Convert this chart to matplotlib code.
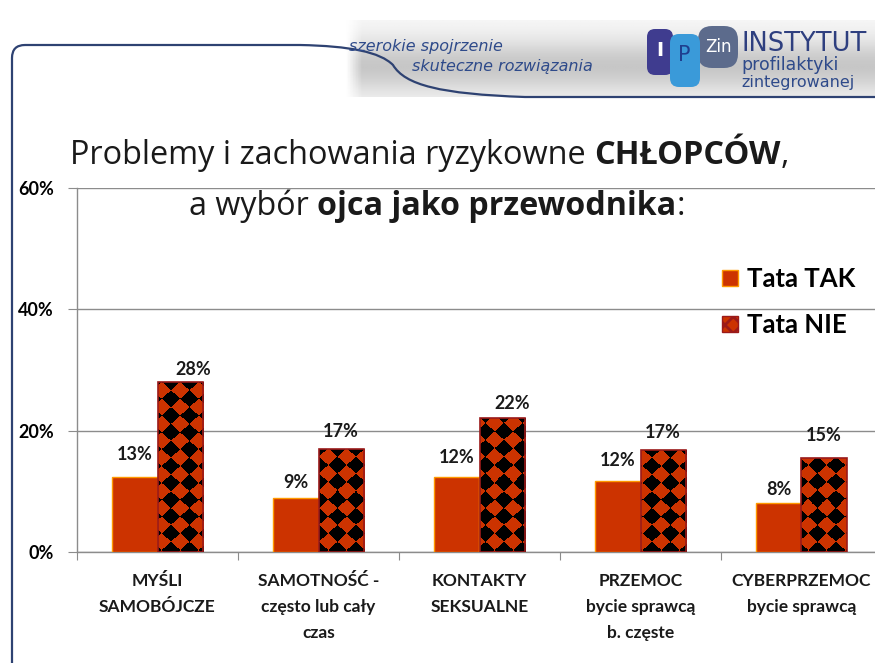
import numpy as np
import matplotlib
matplotlib.use("Agg")
import matplotlib.pyplot as plt
from matplotlib.path import Path
from matplotlib.patches import PathPatch, FancyBboxPatch
from matplotlib.colors import ListedColormap

categories = ["MYŚLI\nSAMOBÓJCZE", "SAMOTNOŚĆ -\nczęsto lub cały\nczas", "KONTAKTY\nSEKSUALNE",
              "PRZEMOC\nbycie sprawcą\nb. częste", "CYBERPRZEMOC\nbycie sprawcą"]
tata_tak = [12.4, 8.9, 12.4, 11.7, 8.1]
tata_nie = [28.0, 17.0, 22.1, 16.8, 15.5]
tak_labels = ["13%", "9%", "12%", "12%", "8%"]
nie_labels = ["28%", "17%", "22%", "17%", "15%"]
yticks = [0, 20, 40, 60]
ytick_labels = ["0%", "20%", "40%", "60%"]
series_names = ["Tata TAK", "Tata NIE"]

# label placement offsets (pixels) as placed in the original slide
tak_label_dy = [14, 7, 11, 12, 5]
nie_label_dy = [4, 9, 6, 9, 14]
nie_label_dx = [13, 0, 10, 0, 0]

W, H = 875, 663
fig = plt.figure(figsize=(W / 100, H / 100), dpi=100)
fig.patch.set_facecolor("white")

# background / header layer in pixel coords
bg = fig.add_axes([0, 0, 1, 1], zorder=-5)
bg.set_xlim(0, W)
bg.set_ylim(H, 0)
bg.axis("off")

yy = np.linspace(0, 1, 80)[:, None]
xx = np.linspace(0, 1, 200)[None, :]
prof = 0.97 - 0.19 * np.exp(-((yy - 0.6) / 0.35) ** 2)
edge = np.clip(xx / 0.03, 0, 1)
grad = 1 - (1 - prof) * edge
bg.imshow(grad, cmap="gray", vmin=0, vmax=1, extent=[345, W, 97, 20], aspect="auto", zorder=0)

frame = Path([(12, H), (12, 58), (12, 45), (25, 45), (300, 45),
              (350, 46), (380, 52), (393, 65),
              (405, 85), (440, 94), (525, 97), (W, 97)],
             [Path.MOVETO, Path.LINETO, Path.CURVE3, Path.CURVE3, Path.LINETO,
              Path.CURVE4, Path.CURVE4, Path.CURVE4,
              Path.CURVE4, Path.CURVE4, Path.CURVE4, Path.LINETO])
bg.add_patch(PathPatch(frame, facecolor="none", edgecolor="#2E4272", lw=1.6, zorder=2))

bg.text(349, 46, "szerokie spojrzenie", fontsize=11.5, style="italic", color="#2E4A8A",
        family="DejaVu Sans", va="center", ha="left")
bg.text(412, 67, "skuteczne rozwiązania", fontsize=11.5, style="italic", color="#2E4A8A",
        family="DejaVu Sans", va="center", ha="left")

# logo pieces
bg.add_patch(FancyBboxPatch((649, 31), 22, 42, boxstyle="round,pad=2,rounding_size=8",
                            fc="#3F3C8F", ec="none", zorder=3))
bg.add_patch(FancyBboxPatch((672, 36), 26, 49, boxstyle="round,pad=2,rounding_size=9",
                            fc="#3A9AD9", ec="none", zorder=4))
bg.add_patch(FancyBboxPatch((700, 28), 36, 38, boxstyle="round,pad=2,rounding_size=14",
                            fc="#5C6B8C", ec="none", zorder=3))
bg.text(660, 50, "I", color="white", fontsize=14, fontweight="bold", ha="center", va="center", zorder=5)
bg.text(684, 55, "P", color="#1f3f8f", fontsize=15, ha="center", va="center", zorder=5)
bg.text(718, 47, "Zin", color="white", fontsize=12, ha="center", va="center", zorder=5)
bg.text(741, 51, "INSTYTUT", color="#2E3F7F", fontsize=18.5, ha="left", va="baseline", zorder=5,
        family="DejaVu Sans")
bg.text(741, 70, "profilaktyki", color="#2E4A8A", fontsize=12.5, ha="left", va="baseline", zorder=5,
        family="DejaVu Sans")
bg.text(741, 87, "zintegrowanej", color="#2E4A8A", fontsize=11.5, ha="left", va="baseline", zorder=5,
        family="DejaVu Sans")

# main axes
ax = fig.add_axes([77 / W, 1 - 552 / H, (882 - 77) / W, (552 - 188) / H], zorder=1)
ax.set_facecolor("none")
x = np.arange(len(categories))
bw = 0.28
xlim = (-0.5, len(categories) - 0.5)
ylim = (0, 60)

plt.rcParams["hatch.linewidth"] = 2.0
plt.rcParams["hatch.color"] = "black"

ax.bar(x - bw / 2, tata_tak, bw, color="#CC3300", edgecolor="#FF9900", linewidth=1.0, zorder=3)
nie_bars = ax.bar(x + bw / 2, tata_nie, bw, color="#CC3300", linewidth=0, zorder=3)

# diamond checker texture clipped to the NIE bars
ph, pw = 364, 805
ii, jj = np.mgrid[0:ph, 0:pw]
d = 18.5
tex = ((np.floor((jj + ii * 1.1) / d) + np.floor((jj - ii * 1.1) / d)) % 2).astype(float)
cmap_tex = ListedColormap(["#CC3300", "#000000"])
for p in nie_bars.patches:
    im = ax.imshow(tex, extent=(xlim[0], xlim[1], ylim[0], ylim[1]), aspect="auto",
                   interpolation="nearest", cmap=cmap_tex, vmin=0, vmax=1, zorder=3.5)
    im.set_clip_path(p)
ax.bar(x + bw / 2, tata_nie, bw, facecolor="none", edgecolor="#9B1A1A", linewidth=1.2, zorder=4)

for xi, v, lab, dy in zip(x - bw / 2, tata_tak, tak_labels, tak_label_dy):
    ax.annotate(lab, (xi, v), xytext=(0, dy), textcoords="offset pixels", ha="center", va="bottom",
                fontsize=13, family="Lato", fontweight="bold", color="#1a1a1a")
for xi, v, lab, dy, dx in zip(x + bw / 2, tata_nie, nie_labels, nie_label_dy, nie_label_dx):
    ax.annotate(lab, (xi, v), xytext=(dx, dy), textcoords="offset pixels", ha="center", va="bottom",
                fontsize=13, family="Lato", fontweight="bold", color="#1a1a1a")

ax.set_xlim(*xlim)
ax.set_ylim(*ylim)
ax.set_yticks(yticks)
ax.set_yticklabels(ytick_labels, fontsize=13, fontweight="bold", family="Lato")
ax.yaxis.grid(True, color="#8c8c8c", lw=1.0, zorder=0)
ax.set_axisbelow(True)
ax.set_xticks(np.arange(len(categories) + 1) - 0.5)
ax.set_xticklabels([])
ax.tick_params(axis="x", length=6, color="#8c8c8c", direction="out")
ax.tick_params(axis="y", length=6.5, color="#8c8c8c", direction="out", pad=10)
for s in ["top", "right"]:
    ax.spines[s].set_visible(False)
for s in ["left", "bottom"]:
    ax.spines[s].set_color("#8c8c8c")
    ax.spines[s].set_linewidth(1.0)

for xi, cat in zip(x, categories):
    ax.text(xi, -3.5, cat, ha="center", va="top", fontsize=12.5, fontweight="bold",
            family="Lato", transform=ax.transData,
            linespacing=1.77, clip_on=False, color="#1a1a1a")

# legend
ax.bar([np.nan], [np.nan], color="#CC3300", edgecolor="#FF9900", linewidth=1, label=series_names[0])
ax.bar([np.nan], [np.nan], color="#CC3300", edgecolor="#9B1A1A", linewidth=1, hatch="xx",
       label=series_names[1])
leg = ax.legend(loc="upper left", bbox_to_anchor=((699 - 77) / (882 - 77), (552 - 244) / (552 - 188)),
                frameon=False, prop={"family": "Lato", "weight": "bold", "size": 18.5},
                handlelength=0.6, handleheight=0.6, handletextpad=0.35, labelspacing=0.85)

# title with mixed weights
fig.canvas.draw()
renderer = fig.canvas.get_renderer()

def mixed_line(parts, x0, y0, size, fam="Open Sans"):
    xpos = x0
    for txt, wt in parts:
        t = fig.text(xpos / W, 1 - y0 / H, txt, fontsize=size, fontweight=wt, family=fam,
                     ha="left", va="baseline", color="#1a1a1a")
        ext = t.get_window_extent(renderer)
        xpos += ext.width

gap = " "
mixed_line([("Problemy i zachowania ryzykowne", "normal"), (gap, "normal"),
            ("CHŁOPCÓW", "bold"), (",", "normal")], 70, 164, 23.4)
mixed_line([("a wybór", "normal"), (gap, "normal"), ("ojca jako przewodnika", "bold"), (":", "normal")],
           189, 215, 23.2)

fig.savefig("out.png", dpi=100)
